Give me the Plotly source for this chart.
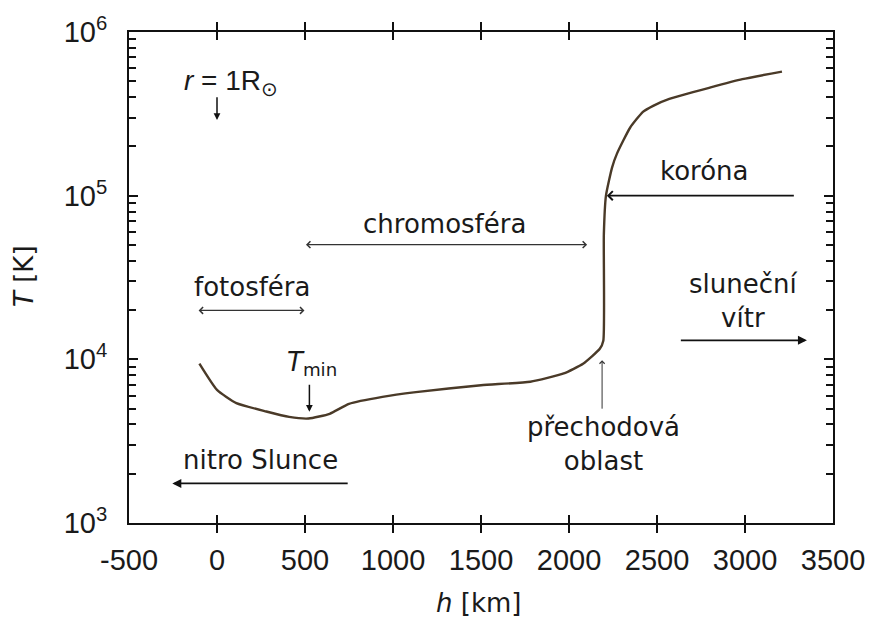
import numpy as np
import plotly.graph_objects as go

# Temperature profile of the solar atmosphere: height above photosphere vs temperature
h_km = [-100, 0, 110, 280, 410, 520, 640, 750, 940, 1130, 1500, 1780, 1970, 2080,
        2175, 2195, 2198, 2210, 2245, 2272, 2347, 2420, 2478, 2570, 2800, 2985, 3210]
T_K = [9400, 6500, 5400, 4800, 4450, 4350, 4650, 5350, 5900, 6300, 6950, 7300, 8200, 9400,
       11600, 13000, 58000, 100000, 149000, 180000, 260000, 325000, 354000, 390000,
       457000, 515000, 573000]

x_ticks = [-500, 0, 500, 1000, 1500, 2000, 2500, 3000, 3500]
x_ticktext = ["-500", "0", "500", "1000", "1500", "2000", "2500", "3000", "3500"]
y_ticks = [1e3, 1e4, 1e5, 1e6]
y_ticktext = ["10<sup>3</sup>", "10<sup>4</sup>", "10<sup>5</sup>", "10<sup>6</sup>"]
y_minor = [float(m * 10 ** k) for k in (3, 4, 5) for m in range(2, 10)]

TICK_FONT = dict(family="Liberation Sans, Arial, sans-serif", size=29, color="#1a1a1a")
TEXT_FONT = dict(family="DejaVu Sans, sans-serif", size=26, color="#1a1a1a")
INK = "#111111"

fig = go.Figure()
fig.add_trace(go.Scatter(
    x=h_km, y=T_K, mode="lines",
    line=dict(color="#4a3a28", width=2.4, shape="spline", smoothing=0.5),
    showlegend=False, hoverinfo="skip",
))
# invisible copy on the right-hand axis so its minor ticks get drawn
fig.add_trace(go.Scatter(
    x=h_km, y=T_K, mode="lines", yaxis="y2",
    line=dict(color="rgba(0,0,0,0)", width=1),
    showlegend=False, hoverinfo="skip",
))


def label(h, T, text, font=TEXT_FONT):
    return dict(x=h, y=np.log10(T), xref="x", yref="y", text=text, showarrow=False,
                xanchor="center", yanchor="middle", font=font)


def arrow(h_head, T_head, h_tail, T_tail, head=2, size=1.0, width=1.6, both=False,
          color=INK):
    a = dict(x=h_head, y=np.log10(T_head), ax=h_tail, ay=np.log10(T_tail),
             xref="x", yref="y", axref="x", ayref="y", text="", showarrow=True,
             arrowhead=head, arrowsize=size, arrowwidth=width, arrowcolor=color)
    if both:
        a.update(arrowside="end+start", startarrowhead=head, startarrowsize=size)
    return a


annotations = [
    # region labels
    label(80, 489000, "<i>r</i> = 1R<sub>⊙</sub>",
          font=dict(family="Liberation Sans, Arial, sans-serif", size=28, color="#1a1a1a")),
    label(2765, 140600, "koróna"),
    label(1295, 67500, "chromosféra"),
    label(196, 27600, "fotosféra"),
    label(542, 9460, "<i>T</i><sub>min</sub>"),
    label(249, 2420, "nitro Slunce"),
    label(2990, 22600, "sluneční<br>vítr"),
    label(2197, 3030, "přechodová<br>oblast"),
    # arrows
    arrow(0, 290400, 0, 407400, head=2, size=0.9, width=1.5),
    arrow(2215, 100000, 3286, 100000, head=4, size=1.1, width=1.6),
    arrow(2103, 50200, 497, 50200, head=4, size=1.2, width=1.1, both=True, color="#333333"),
    arrow(497, 19900, -113, 19900, head=4, size=1.2, width=1.1, both=True, color="#333333"),
    arrow(525, 4780, 525, 7140, head=2, size=0.9, width=1.5),
    arrow(-254, 1746, 751, 1746, head=2, size=1.0, width=1.8),
    arrow(3352, 13060, 2627, 13060, head=2, size=1.0, width=1.8),
    arrow(2188, 9860, 2188, 4890, head=4, size=1.0, width=1.0, color="#333333"),
    # axis titles
    dict(x=-0.15, y=0.504, xref="paper", yref="paper", text="<i>T</i> [K]",
         showarrow=False, textangle=-90, xanchor="center", yanchor="middle", font=TEXT_FONT),
    dict(x=0.497, y=-0.163, xref="paper", yref="paper", text="<i>h</i> [km]",
         showarrow=False, xanchor="center", yanchor="middle", font=TEXT_FONT),
]

fig.update_layout(
    width=877, height=619,
    margin=dict(l=129, r=40, t=31, b=96),
    paper_bgcolor="white", plot_bgcolor="white",
    annotations=annotations,
    xaxis=dict(
        range=[-500, 3500], tickvals=x_ticks, ticktext=x_ticktext, ticks="inside",
        ticklen=8, tickwidth=1.5, tickcolor=INK, showline=True, linewidth=2,
        linecolor=INK, mirror="allticks", showgrid=False, zeroline=False,
        tickfont=TICK_FONT, ticklabelstandoff=10,
    ),
    yaxis=dict(
        type="log", range=[3, 6], tickmode="array", tickvals=y_ticks, ticktext=y_ticktext,
        ticks="inside", ticklen=9, tickwidth=1.5, tickcolor=INK,
        minor=dict(tickmode="array", tickvals=y_minor, ticks="inside", ticklen=7,
                   tickwidth=1.5, tickcolor=INK, showgrid=False),
        showline=True, linewidth=2, linecolor=INK, mirror="allticks",
        showgrid=False, zeroline=False, tickfont=TICK_FONT, ticklabelstandoff=14,
    ),
    yaxis2=dict(
        type="log", range=[3, 6], overlaying="y", anchor="x", side="right",
        tickmode="array", tickvals=y_minor, ticks="inside", ticklen=7, tickwidth=1.5,
        tickcolor=INK, showticklabels=False, showline=False, showgrid=False,
        zeroline=False,
    ),
)

fig.write_html("out.html")
